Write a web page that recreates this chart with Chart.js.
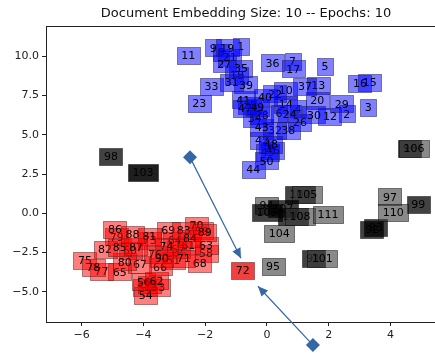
<!DOCTYPE html>
<html>
<head>
<meta charset="utf-8">
<script src="https://cdn.jsdelivr.net/npm/chart.js@4"></script>
<style>
  body { margin: 0; background: #fff; }
  canvas { display: block; }
</style>
</head>
<body>
<canvas id="embChart" width="435" height="353"></canvas>
<script>
// documents 1-50
const blueLabels = [1,2,3,4,5,6,7,8,9,10,11,12,13,14,15,16,17,18,19,20,21,22,23,24,25,26,27,28,29,30,31,32,33,34,35,36,37,38,39,40,41,42,43,44,45,46,47,48,49,50];
const blueX = [-0.85,2.58,3.28,1.01,1.88,0.39,0.83,-1.49,-1.74,0.61,-2.55,2.04,1.66,0.61,3.33,3.01,0.85,-0.97,-1.28,1.63,-1.2,0.26,-2.19,0.74,-0.55,1.07,-1.38,-0.17,2.42,1.52,-1.14,0.26,-1.79,-0.39,-0.84,0.18,1.23,0.69,-0.68,-0.06,-0.77,-0.16,-0.17,-0.44,0.03,0.19,-0.71,0.13,-0.31,-0.01];
const blueY = [10.62,6.34,6.76,6.66,9.35,6.36,9.69,10.24,10.54,7.82,10.05,6.17,8.14,6.93,8.33,8.27,9.2,8.78,10.54,7.19,9.92,7.61,7.02,6.34,6.87,5.81,9.52,6.23,6.98,6.28,8.35,5.28,8.08,6.04,9.24,9.59,8.08,5.28,8.19,7.4,7.23,4.64,5.49,2.78,3.88,4.01,6.68,4.39,6.76,3.33];

// documents 51-90
const redLabels = [51,52,53,54,55,56,57,58,59,60,61,62,63,64,65,66,67,68,69,70,71,72,73,74,75,76,77,78,79,80,81,82,83,84,85,86,87,88,89,90];
const redX = [-3.03,-3.95,-3.52,-3.92,-3.79,-3.98,-2.87,-1.97,-2.11,-4.43,-2.55,-3.57,-1.97,-2.98,-4.76,-3.46,-4.11,-2.17,-3.19,-2.28,-2.69,-0.78,-3.79,-3.25,-5.89,-3.62,-5.35,-5.62,-4.86,-4.6,-3.81,-5.24,-2.69,-2.49,-4.76,-4.92,-4.24,-4.35,-2.01,-3.4];
const redY = [-2.99,-4.73,-4.73,-5.22,-4.52,-4.37,-2.31,-2.56,-1.13,-2.35,-2.04,-4.31,-2.04,-1.72,-3.73,-3.42,-3.24,-3.2,-1.08,-0.76,-2.86,-3.63,-1.72,-2.1,-2.99,-2.61,-3.69,-3.45,-1.51,-3.1,-1.46,-2.31,-1.08,-1.59,-2.18,-1.02,-2.14,-1.34,-1.21,-2.86];

// documents 91-111
const grayLabels = [91,92,93,94,95,96,97,98,99,100,101,102,103,104,105,106,107,108,109,110,111];
const grayX = [1.5,3.4,3.53,-0.01,0.2,4.63,3.98,-5.05,4.9,0.85,1.79,1.07,-4.01,0.4,1.29,4.76,0.52,1.07,0.0,4.09,1.98];
const grayY = [-2.88,-1.02,-0.89,0.51,-3.37,4.13,1.04,3.63,0.57,-0.19,-2.88,1.21,2.61,-1.29,1.21,4.13,0.32,-0.19,0.04,0.04,-0.08];

// arrows: [tailX, tailY, headX, headY]
const arrowA = [-2.49, 3.56, -0.84, -2.87];
const arrowB = [1.49, -8.4, -0.29, -4.65];

const xTicks = [-6, -4, -2, 0, 2, 4];
const yTicks = [-5, -2.5, 0, 2.5, 5, 7.5, 10];

const TITLE = 'Document Embedding Size: 10 -- Epochs: 10';

// styles
const darkGray = [91, 92, 93, 96, 98, 99, 100, 102, 109, 107];
const darkest = [103];
const highlight = [72];
const FONT = '"DejaVu Sans", "Liberation Sans", sans-serif';
const ARROW = '#3566a6';
const minus = s => String(s).replace('-', '\u2212');

const pts = (xs, ys) => xs.map((x, i) => ({ x: x, y: ys[i] }));

const boxFill = (group, lab) => {
  if (group === 'blue') return 'rgba(0,0,255,0.5)';
  if (group === 'red') return highlight.includes(lab) ? 'rgba(235,0,0,0.75)' : 'rgba(255,0,0,0.5)';
  if (darkest.includes(lab)) return 'rgba(0,0,0,0.88)';
  if (darkGray.includes(lab)) return 'rgba(0,0,0,0.74)';
  return 'rgba(60,60,60,0.6)';
};
const boxEdge = {
  blue: 'rgba(30,30,90,0.5)',
  red: 'rgba(90,30,30,0.5)',
  gray: 'rgba(0,0,0,0.45)'
};

const labelBoxes = {
  id: 'labelBoxes',
  beforeDatasetsDraw(chart) {
    const { ctx, chartArea } = chart;
    ctx.save();
    ctx.beginPath();
    ctx.rect(chartArea.left, chartArea.top, chartArea.right - chartArea.left, chartArea.bottom - chartArea.top);
    ctx.clip();
    ctx.font = '11px ' + FONT;
    ctx.textAlign = 'center';
    ctx.textBaseline = 'middle';
    chart.data.datasets.forEach((ds, di) => {
      if (!ds.docLabels) return;
      const meta = chart.getDatasetMeta(di);
      meta.data.forEach((el, i) => {
        const lab = ds.docLabels[i];
        const t = String(lab);
        const w = Math.round(ctx.measureText(t).width + 9);
        const h = 17;
        const x0 = Math.round(el.x - w / 2) + 0.5;
        const y0 = Math.round(el.y - h / 2) + 0.5;
        ctx.fillStyle = boxFill(ds.group, lab);
        ctx.fillRect(x0, y0, w, h);
        ctx.strokeStyle = boxEdge[ds.group];
        ctx.lineWidth = 1;
        ctx.strokeRect(x0, y0, w, h);
        ctx.fillStyle = '#000';
        ctx.fillText(t, el.x, el.y + 1);
      });
    });
    ctx.restore();
  },
  afterDatasetsDraw(chart) {
    const { ctx } = chart;
    chart.data.datasets.forEach((ds, di) => {
      if (!ds.isArrow) return;
      const [p0, p1] = chart.getDatasetMeta(di).data;
      const a = Math.atan2(p1.y - p0.y, p1.x - p0.x);
      const len = 10, hw = 4.5, d = 7;
      ctx.save();
      ctx.fillStyle = ARROW;
      // head
      ctx.beginPath();
      ctx.moveTo(p1.x, p1.y);
      ctx.lineTo(p1.x - len * Math.cos(a) + hw * Math.sin(a), p1.y - len * Math.sin(a) - hw * Math.cos(a));
      ctx.lineTo(p1.x - len * Math.cos(a) - hw * Math.sin(a), p1.y - len * Math.sin(a) + hw * Math.cos(a));
      ctx.closePath();
      ctx.fill();
      // diamond at the tail
      ctx.beginPath();
      ctx.moveTo(p0.x, p0.y - d);
      ctx.lineTo(p0.x + d, p0.y);
      ctx.lineTo(p0.x, p0.y + d);
      ctx.lineTo(p0.x - d, p0.y);
      ctx.closePath();
      ctx.fill();
      ctx.restore();
    });
  },
  afterDraw(chart) {
    const { ctx, chartArea } = chart;
    ctx.save();
    // top spine
    ctx.strokeStyle = '#222';
    ctx.lineWidth = 1;
    ctx.beginPath();
    ctx.moveTo(chartArea.left, Math.round(chartArea.top) + 0.5);
    ctx.lineTo(chartArea.right, Math.round(chartArea.top) + 0.5);
    ctx.stroke();
    // title, centred over the full axes (which run past the right edge)
    ctx.font = '13px ' + FONT;
    ctx.fillStyle = '#111';
    ctx.textAlign = 'center';
    ctx.textBaseline = 'middle';
    ctx.fillText(TITLE, chartArea.left + (chartArea.right + 11 - chartArea.left) / 2, 14);
    ctx.restore();
  }
};

const arrowSet = arr => ({
  type: 'line',
  isArrow: true,
  data: [{ x: arr[0], y: arr[1] }, { x: arr[2], y: arr[3] }],
  showLine: true,
  borderColor: ARROW,
  borderWidth: 1.2,
  pointRadius: 0,
  clip: false
});

const ctx = document.getElementById('embChart').getContext('2d');
new Chart(ctx, {
  type: 'scatter',
  data: {
    datasets: [
      { group: 'blue', docLabels: blueLabels, data: pts(blueX, blueY), pointRadius: 0 },
      { group: 'red', docLabels: redLabels, data: pts(redX, redY), pointRadius: 0 },
      { group: 'gray', docLabels: grayLabels, data: pts(grayX, grayY), pointRadius: 0 },
      arrowSet(arrowA),
      arrowSet(arrowB)
    ]
  },
  options: {
    responsive: false,
    animation: false,
    devicePixelRatio: 1,
    events: [],
    layout: { padding: { top: 26, left: 0, right: 0, bottom: 0 } },
    plugins: {
      legend: { display: false },
      tooltip: { enabled: false },
      title: { display: false }
    },
    scales: {
      x: {
        type: 'linear',
        min: -7.15,
        max: 5.44,
        grid: { drawOnChartArea: false, drawTicks: true, tickLength: 4, color: '#222' },
        border: { display: true, color: '#222', width: 1 },
        ticks: { color: '#222', padding: 3, font: { size: 11, family: FONT }, callback: v => minus(v) },
        afterBuildTicks: s => { s.ticks = xTicks.map(v => ({ value: v })); },
        afterFit: s => { s.height = 31; }
      },
      y: {
        type: 'linear',
        min: -6.93,
        max: 11.93,
        grid: { drawOnChartArea: false, drawTicks: true, tickLength: 4, color: '#222' },
        border: { display: true, color: '#222', width: 1 },
        ticks: { color: '#222', padding: 3, font: { size: 11, family: FONT }, callback: v => minus(Number(v).toFixed(1)) },
        afterBuildTicks: s => { s.ticks = yTicks.map(v => ({ value: v })); },
        afterFit: s => { s.width = 46; }
      }
    }
  },
  plugins: [labelBoxes]
});
</script>
</body>
</html>
